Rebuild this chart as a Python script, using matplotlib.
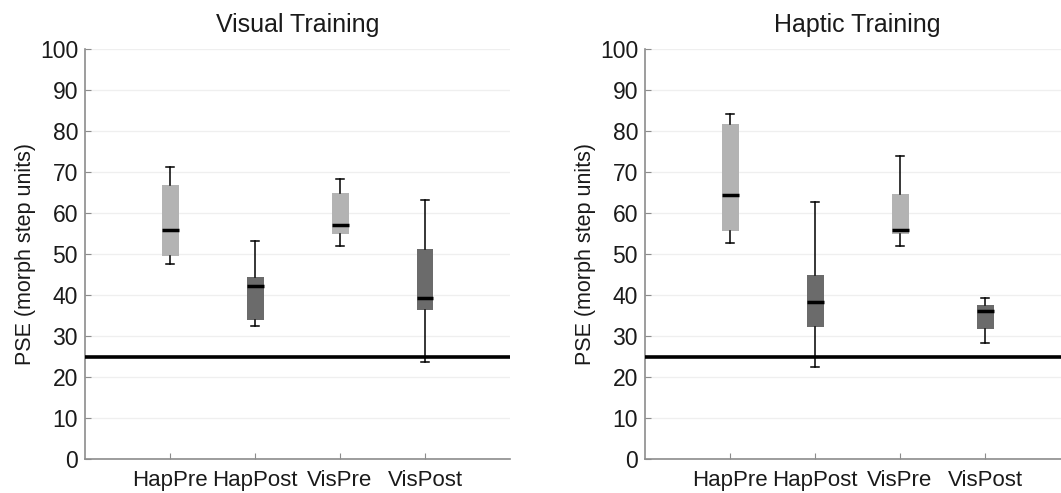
import matplotlib
matplotlib.use("Agg")
import matplotlib.pyplot as plt

plt.rcParams['font.family'] = ['Liberation Sans', 'DejaVu Sans']

categories = ["HapPre", "HapPost", "VisPre", "VisPost"]
titles = ["Visual Training", "Haptic Training"]

# Visual training
vis_whislo = [47.6, 32.4, 52.0, 23.7]
vis_q1 = [49.6, 33.8, 55.0, 36.4]
vis_med = [55.9, 42.3, 57.1, 39.3]
vis_q3 = [66.8, 44.5, 64.8, 51.1]
vis_whishi = [71.3, 53.2, 68.2, 63.2]

# Haptic training
hap_whislo = [52.6, 22.4, 52.0, 28.2]
hap_q1 = [55.6, 32.3, 54.8, 31.8]
hap_med = [64.4, 38.2, 55.8, 36.2]
hap_q3 = [81.6, 45.0, 64.6, 37.5]
hap_whishi = [84.2, 62.6, 73.9, 39.3]

chance = 25
yticks = list(range(0, 101, 10))

light = "#b3b3b3"
dark = "#6b6b6b"
box_colors = [light, dark, light, dark]

W, H = 1061, 493
fig = plt.figure(figsize=(W / 100, H / 100), dpi=100)

panels = [
    (85, vis_whislo, vis_q1, vis_med, vis_q3, vis_whishi),
    (645, hap_whislo, hap_q1, hap_med, hap_q3, hap_whishi),
]

for (left_px, wlo, q1, med, q3, whi), title in zip(panels, titles):
    ax = fig.add_axes([left_px / W, (H - 459) / H, 425 / W, 410 / H])
    stats = []
    for i, lab in enumerate(categories):
        stats.append(dict(label=lab, whislo=wlo[i], q1=q1[i], med=med[i],
                          q3=q3[i], whishi=whi[i], fliers=[]))
    pos = list(range(1, len(categories) + 1))
    bp = ax.bxp(stats, positions=pos, widths=0.2, patch_artist=True,
                showfliers=False,
                boxprops=dict(linewidth=0),
                medianprops=dict(color="black", linewidth=2.5),
                whiskerprops=dict(color="black", linewidth=1.1),
                capprops=dict(color="black", linewidth=1.1),
                capwidths=0.1)
    for patch, c in zip(bp["boxes"], box_colors):
        patch.set_facecolor(c)
        patch.set_edgecolor("none")
    ax.axhline(chance, color="black", linewidth=2.6, zorder=5)
    ax.set_xlim(0, 5)
    ax.set_ylim(0, 100)
    ax.set_yticks(yticks)
    ax.set_xticks(pos)
    ax.set_xticklabels(categories)
    ax.grid(axis="y", color="#efefef", linewidth=0.9)
    ax.set_axisbelow(True)
    for s in ["top", "right"]:
        ax.spines[s].set_visible(False)
    for s in ["left", "bottom"]:
        ax.spines[s].set_color("#8c8c8c")
        ax.spines[s].set_linewidth(1.2)
    ax.tick_params(axis="y", direction="in", length=4, color="#8c8c8c",
                   labelsize=16.5, labelcolor="#1a1a1a", pad=5)
    ax.tick_params(axis="x", direction="in", length=4, color="#8c8c8c",
                   labelsize=16, labelcolor="#1a1a1a", pad=8)
    ax.set_ylabel("PSE (morph step units)", fontsize=15.5, color="#1a1a1a", labelpad=3)
    ax.set_title(title, fontsize=18, color="#1a1a1a", pad=12)

fig.savefig("out.png", dpi=100)
